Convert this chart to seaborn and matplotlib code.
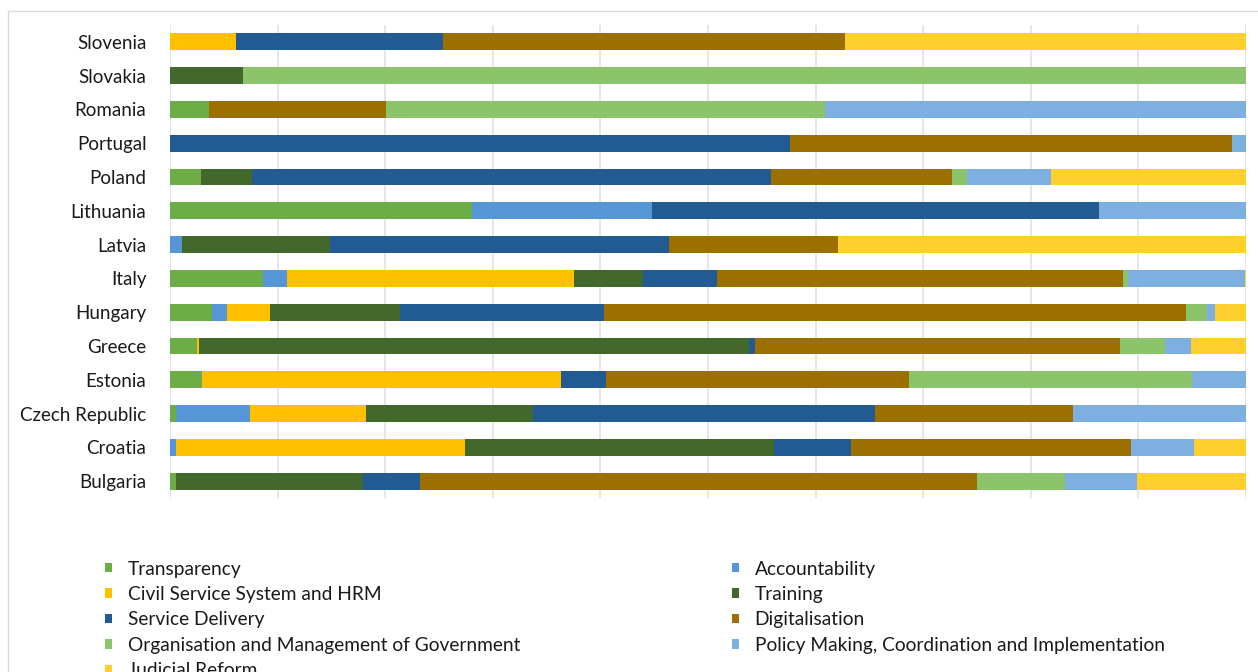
import matplotlib
matplotlib.use("Agg")
import matplotlib.pyplot as plt
from matplotlib.patches import Patch, Rectangle
import numpy as np
import pandas as pd
import seaborn as sns

countries = ["Slovenia", "Slovakia", "Romania", "Portugal", "Poland", "Lithuania",
             "Latvia", "Italy", "Hungary", "Greece", "Estonia", "Czech Republic",
             "Croatia", "Bulgaria"]

categories = ["Transparency", "Accountability", "Civil Service System and HRM",
              "Training", "Service Delivery", "Digitalisation",
              "Organisation and Management of Government",
              "Policy Making, Coordination and Implementation", "Judicial Reform"]

transparency     = [0, 0, 3.6, 0, 2.9, 28.1, 0, 8.6, 3.9, 2.5, 3.0, 0.6, 0, 0.6]
accountability   = [0, 0, 0, 0, 0, 16.7, 1.1, 2.3, 1.4, 0, 0, 6.8, 0.6, 0]
civil_service    = [6.1, 0, 0, 0, 0, 0, 0, 26.6, 4.0, 0.2, 33.3, 10.8, 26.8, 0]
training         = [0, 6.8, 0, 0, 4.7, 0, 13.8, 6.5, 12.1, 51.2, 0, 15.5, 28.7, 17.3]
service_delivery = [19.3, 0, 0, 57.6, 48.3, 41.5, 31.5, 6.8, 19.0, 0.5, 4.2, 31.8, 7.2, 5.3]
digitalisation   = [37.3, 0, 16.5, 41.1, 16.8, 0, 15.7, 37.8, 54.1, 34.0, 28.2, 18.4, 26.0, 51.8]
organisation     = [0, 93.2, 40.8, 0, 1.4, 0, 0, 0.4, 2.0, 4.2, 26.3, 0, 0, 8.2]
policy_making    = [0, 0, 39.1, 1.3, 7.8, 13.7, 0, 10.9, 0.7, 2.4, 5.0, 16.1, 5.9, 6.7]
judicial_reform  = [37.3, 0, 0, 0, 18.1, 0, 38.0, 0.1, 2.9, 5.1, 0, 0, 4.8, 10.1]

colors = ["#6DAD45", "#5596D6", "#FFC000", "#43682B", "#225B93",
          "#9C7000", "#8CC46B", "#7DAFE0", "#FFCF2E"]

series = [transparency, accountability, civil_service, training, service_delivery,
          digitalisation, organisation, policy_making, judicial_reform]

df = pd.DataFrame(dict(zip(categories, series)), index=countries)
df = df.div(df.sum(axis=1), axis=0) * 100
cum = df.cumsum(axis=1)

sns.set_theme(style="white")
plt.rcParams["font.family"] = ["Lato", "DejaVu Sans"]

fig = plt.figure(figsize=(12.58, 6.72), dpi=100)
ax = fig.add_axes([170 / 1258, 1 - 498 / 672, (1246 - 170) / 1258, (498 - 25) / 672])

# gridlines behind bars
for v in np.arange(0, 101, 10):
    ax.axvline(v, color="#DEE3EA", lw=1.2, zorder=0)

# stacked bars: draw cumulative totals from last to first
for i in range(len(categories) - 1, -1, -1):
    plot_df = pd.DataFrame({"country": countries, "value": cum.iloc[:, i].values})
    sns.barplot(data=plot_df, x="value", y="country", order=countries,
                color=colors[i], orient="h", width=0.5, saturation=1,
                ax=ax, zorder=2, linewidth=0)

ax.set_xlim(0, 100)
ax.set_ylim(13.5, -0.5)
ax.set_xlabel("")
ax.set_ylabel("")
ax.set_xticks([])
for s in ax.spines.values():
    s.set_visible(False)
ax.tick_params(axis="y", length=0, pad=17, labelsize=13.5, labelcolor="#1a1a1a")

# outer chart frame
fig.patches.append(Rectangle((8 / 1258, -0.2), 1.2, 1 - 11 / 672 + 0.2,
                             transform=fig.transFigure, fill=False,
                             edgecolor="#D9D9D9", lw=1, zorder=-1))

handles = [Patch(facecolor=c, edgecolor="none") for c in colors]
left_idx = [0, 2, 4, 6, 8]
right_idx = [1, 3, 5, 7]
leg_kw = dict(frameon=False, fontsize=13.8, handlelength=0.38, handleheight=0.4,
              handletextpad=0.8, labelspacing=0.44, borderpad=0, borderaxespad=0,
              labelcolor="#1a1a1a")
l1 = fig.legend([handles[i] for i in left_idx], [categories[i] for i in left_idx],
                loc="upper left", bbox_to_anchor=(105 / 1258, 1 - 560.5 / 672), **leg_kw)
l2 = fig.legend([handles[i] for i in right_idx], [categories[i] for i in right_idx],
                loc="upper left", bbox_to_anchor=(732 / 1258, 1 - 560.5 / 672), **leg_kw)

fig.savefig("out.png", dpi=100)
